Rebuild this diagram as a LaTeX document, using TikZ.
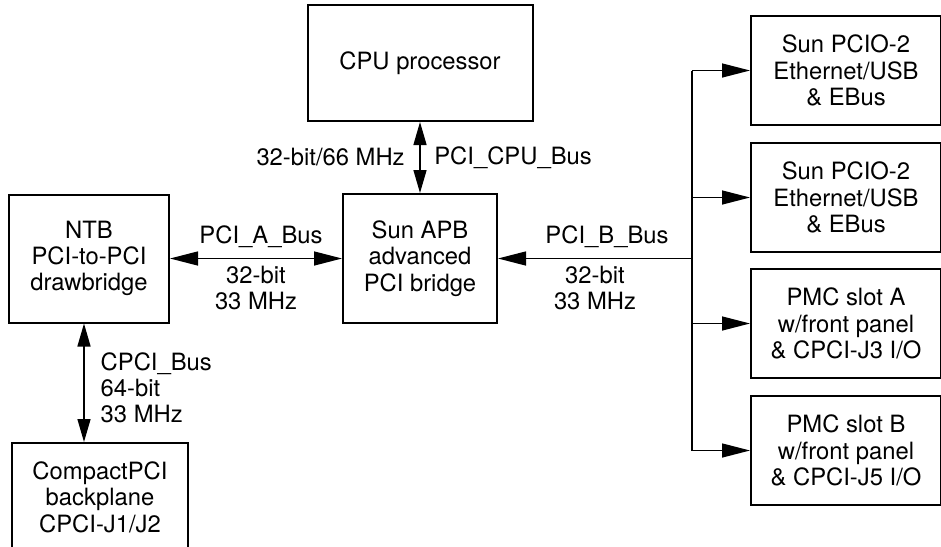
\documentclass[tikz,border=0pt]{standalone}
\usepackage{fontspec}
\setmainfont{TeX Gyre Heros}
\usetikzlibrary{arrows.meta,positioning}

\begin{document}
\begin{tikzpicture}[
 x=0.5pt,y=-0.5pt,
 node distance=8pt and 8pt,
 every node/.style={font=\fontsize{11.9}{13.2}\selectfont,align=center},
 block/.style={draw,line width=1pt,inner sep=2pt},
 iobox/.style={block,minimum width=95pt,minimum height=54.5pt},
 arrow/.style={-{Triangle[length=14pt,width=7pt]},line width=0.7pt},
 biarrow/.style={{Triangle[length=14pt,width=7pt]}-{Triangle[length=14pt,width=7pt]},line width=0.7pt},
 vbiarrow/.style={{Triangle[length=11.5pt,width=6.5pt]}-{Triangle[length=11.5pt,width=6.5pt]},line width=0.7pt},
 busline/.style={line width=0.85pt}
]
\fill[white] (0,0) rectangle (941,546);
\clip (0,0) rectangle (941,546);

\node[block,minimum width=77pt,minimum height=64.5pt] (apb) at (420,258.5) {Sun APB\\advanced\\PCI bridge};
\node[block,minimum width=112.5pt,minimum height=58pt,above=35.5pt of apb] (cpu) {CPU processor};
\node[block,minimum width=80pt,minimum height=64pt,left=86pt of apb] (ntb) {NTB\\PCI-to-PCI\\drawbridge};
\node[block,minimum width=88pt,minimum height=54pt,anchor=north] (cpci) at (100,442) {CompactPCI\\backplane\\CPCI-J1/J2};

% devices on the B bus
\node[iobox,anchor=west] (io1) at (750,70.5) {Sun PCIO-2\\Ethernet/USB\\\& EBus};
\node[iobox,below=8pt of io1] (io2) {Sun PCIO-2\\Ethernet/USB\\\& EBus};
\node[iobox,below=7.5pt of io2] (io3) {PMC slot A\\w/front panel\\\& CPCI-J3 I/O};
\node[iobox,below=8pt of io3] (io4) {PMC slot B\\w/front panel\\\& CPCI-J5 I/O};

\coordinate (bus) at (692,0);

\draw[vbiarrow] (cpu) -- node[left=4pt]{32-bit/66 MHz} node[right=3.5pt]{PCI\_CPU\_Bus} (apb);
\draw[biarrow] (ntb) -- node[above=1.5pt,xshift=2.5pt]{PCI\_A\_Bus} node[below]{32-bit\\33 MHz} (apb);
\draw[arrow] (apb.east -| bus) -- node[above=1.5pt,xshift=6pt]{PCI\_B\_Bus} node[below]{32-bit\\33 MHz} (apb);
\draw[vbiarrow] ([xshift=-2.5pt]ntb.south) -- node[right=4.67pt,yshift=-2.5pt,align=left]{CPCI\_Bus\\64-bit\\33 MHz} ([xshift=-2.5pt]ntb.south |- cpci.north);

\draw[busline] (io1.west -| bus) -- (io4.west -| bus);
\foreach \i in {1,...,4}
  \draw[arrow] (io\i.west -| bus) -- (io\i);
\end{tikzpicture}
\end{document}
